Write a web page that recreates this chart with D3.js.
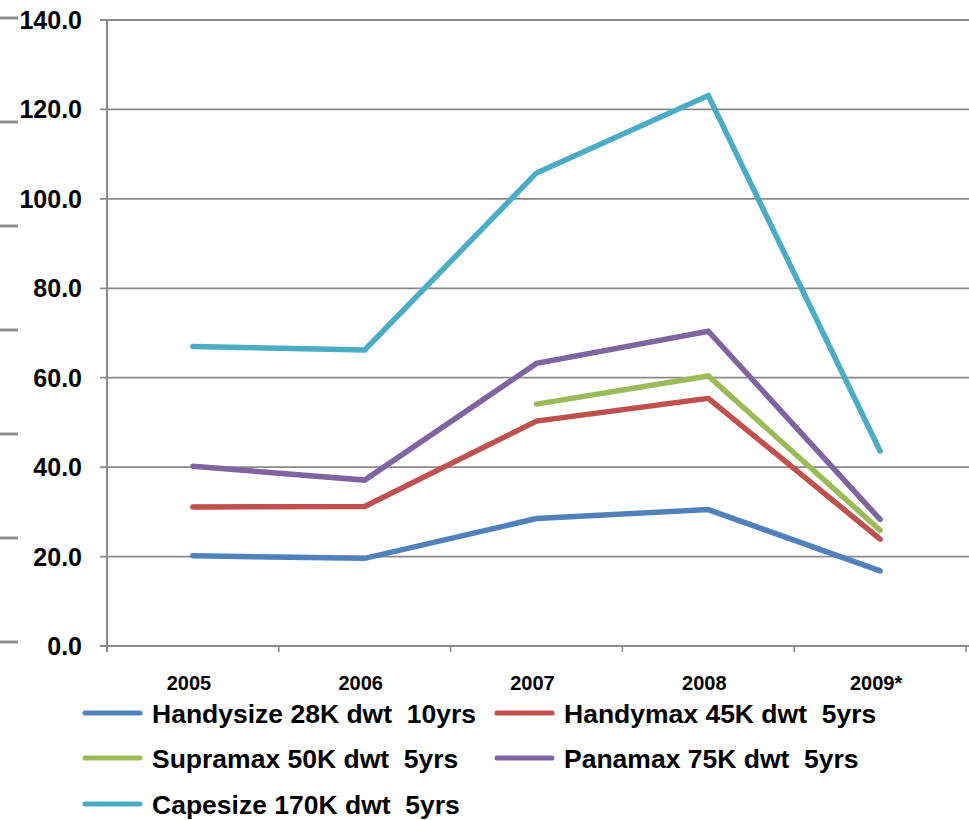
<!DOCTYPE html>
<html>
<head>
<meta charset="utf-8">
<script src="https://cdn.jsdelivr.net/npm/d3@7"></script>
<style>
  html, body { margin: 0; padding: 0; background: #fff; }
  svg { display: block; font-family: "Liberation Sans", Arial, Helvetica, sans-serif; font-weight: bold; }
  .legend-label { white-space: pre; }
</style>
</head>
<body>
<svg id="chart" width="969" height="820"></svg>
<script>
// Years on the category axis
const years = ["2005", "2006", "2007", "2008", "2009*"];

// Values per vessel class (null = no value for that year)
const handysize = [20.2, 19.6, 28.5, 30.5, 16.8];
const handymax  = [31.1, 31.2, 50.3, 55.4, 23.9];
const supramax  = [null, null, 54.1, 60.4, 25.9];
const panamax   = [40.2, 37.1, 63.2, 70.4, 28.3];
const capesize  = [67.0, 66.2, 105.8, 123.1, 43.6];

const seriesNames = [
  "Handysize 28K dwt  10yrs",
  "Handymax 45K dwt  5yrs",
  "Supramax 50K dwt  5yrs",
  "Panamax 75K dwt  5yrs",
  "Capesize 170K dwt  5yrs"
];
const seriesColors = ["#4F81BD", "#C0504D", "#9BBB59", "#8064A2", "#4BACC6"];

// Value axis ticks
const yTicks = [0, 20, 40, 60, 80, 100, 120, 140];

const series = [handysize, handymax, supramax, panamax, capesize].map((vals, i) => ({
  name: seriesNames[i],
  color: seriesColors[i],
  values: vals.map((v, j) => ({ year: years[j], value: v }))
}));

const svg = d3.select("#chart");

const plotLeft = 107, plotRight = 966, plotTop = 20, plotBottom = 646;

const x = d3.scaleBand().domain(years).range([plotLeft, plotRight]).padding(0);
const y = d3.scaleLinear().domain([0, 140]).range([plotBottom, plotTop]);
const cx = d => x(d) + x.bandwidth() / 2;

// Decorative marks on the far left edge
const deco = svg.append("g");
d3.range(7).forEach(i => {
  deco.append("line")
    .attr("x1", 0).attr("x2", 18)
    .attr("y1", 18 + i * 104).attr("y2", 18 + i * 104)
    .attr("stroke", "#8c8c8c").attr("stroke-width", 3);
});

// Horizontal gridlines with small outer ticks
const grid = svg.append("g");
grid.selectAll("line.grid")
  .data(yTicks)
  .join("line")
  .attr("class", "grid")
  .attr("x1", plotLeft - 7).attr("x2", 969)
  .attr("y1", d => y(d)).attr("y2", d => y(d))
  .attr("stroke", "#8a8a8a").attr("stroke-width", 1.8);

// Value axis labels
svg.append("g").selectAll("text")
  .data(yTicks)
  .join("text")
  .attr("x", 82)
  .attr("y", d => y(d) + 9)
  .attr("text-anchor", "end")
  .attr("font-size", 25)
  .attr("fill", "#000")
  .text(d => d.toFixed(1));

// Vertical axis line
svg.append("line")
  .attr("x1", plotLeft).attr("x2", plotLeft)
  .attr("y1", plotTop).attr("y2", plotBottom + 6)
  .attr("stroke", "#8a8a8a").attr("stroke-width", 2);

// Category axis baseline and boundary ticks
svg.append("line")
  .attr("x1", plotLeft).attr("x2", plotRight)
  .attr("y1", plotBottom).attr("y2", plotBottom)
  .attr("stroke", "#8a8a8a").attr("stroke-width", 2);

const bounds = years.map(d => x(d)).concat([x(years[years.length - 1]) + x.bandwidth()]);
svg.append("g").selectAll("line")
  .data(bounds)
  .join("line")
  .attr("x1", d => d).attr("x2", d => d)
  .attr("y1", plotBottom).attr("y2", plotBottom + 6)
  .attr("stroke", "#8a8a8a").attr("stroke-width", 1.6);

// Category labels
svg.append("g").selectAll("text")
  .data(years)
  .join("text")
  .attr("x", d => cx(d) - 4)
  .attr("y", 690)
  .attr("text-anchor", "middle")
  .attr("font-size", 20)
  .attr("fill", "#000")
  .text(d => d);

// Series lines
const line = d3.line()
  .defined(d => d.value !== null)
  .x(d => cx(d.year))
  .y(d => y(d.value));

svg.append("g").selectAll("path")
  .data(series)
  .join("path")
  .attr("d", s => line(s.values))
  .attr("fill", "none")
  .attr("stroke", s => s.color)
  .attr("stroke-width", 5.5)
  .attr("stroke-linecap", "round")
  .attr("stroke-linejoin", "miter");

// Legend: two columns, row-major order
const legendCols = [85, 497];
const legendRows = [713, 758, 804];
const legend = svg.append("g").selectAll("g")
  .data(series)
  .join("g")
  .attr("transform", (s, i) => `translate(${legendCols[i % 2]},${legendRows[Math.floor(i / 2)]})`);

legend.append("line")
  .attr("x1", 0).attr("x2", 55)
  .attr("y1", 0).attr("y2", 0)
  .attr("stroke", s => s.color)
  .attr("stroke-width", 5)
  .attr("stroke-linecap", "round");

legend.append("text")
  .attr("class", "legend-label")
  .attr("x", 67)
  .attr("y", 10)
  .attr("font-size", 26.5)
  .attr("fill", "#000")
  .text(s => s.name);
</script>
</body>
</html>
